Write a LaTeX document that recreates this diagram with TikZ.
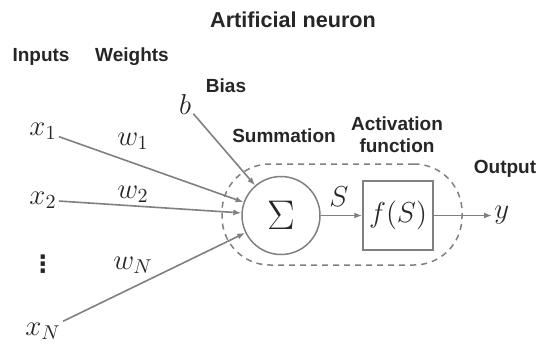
\documentclass[tikz,border=0pt]{standalone}
\usepackage{fontspec}
\setsansfont{Liberation Sans}
\newfontfamily\symbolfont{DejaVu Sans}
\usetikzlibrary{arrows.meta}
\definecolor{linegray}{HTML}{808080}
\definecolor{textgray}{HTML}{262626}

\begin{document}
\begin{tikzpicture}[
                        x=0.5pt, y=-0.5pt,
                        lbl/.style = {font=\sffamily\bfseries\fontsize{9.5}{11}\selectfont, text=textgray, align=center, inner sep=0pt},
                        mth/.style = {font=\fontsize{14.5}{17}\selectfont, text=textgray, inner sep=1pt},
                        conn/.style = {draw=linegray, line width=0.8pt, -{Latex[length=4pt,width=3pt]}}
                    ]
                        \useasboundingbox (0,0) rectangle (540,343);

                        \node[lbl, font=\sffamily\bfseries\fontsize{10.8}{13}\selectfont] (title) at (293,20) {Artificial neuron};
                        \node[lbl] (inputs) at (41,57) {Inputs};
                        \node[lbl] (weights) at (132,57) {Weights};
                        \node[lbl] (bias) at (226,86) {Bias};
                        \node[lbl] (summation) at (284,136) {Summation};
                        \node[lbl] (activation) at (397,135) {Activation\\function};
                        \node[lbl] (output) at (505,169) {Output};

                        \node[
                            draw = linegray,
                            line width = 0.75pt,
                            dash pattern = on 3pt off 2.5pt,
                            rounded corners = 24pt,
                            minimum width = 120pt,
                            minimum height = 50.5pt
                        ] (body) at (342,214.5) {};

                        \node[mth] (x1) at (43,131) {$x_1$};
                        \node[mth] (x2) at (43,200) {$x_2$};
                        \node[mth, font=\symbolfont\bfseries\fontsize{12}{14}\selectfont] (dots) at (43,264) {⋮};
                        \node[mth] (xN) at (43,331) {$x_N$};
                        \node[mth] (b) at (185,104) {$b$};

                        \node[mth] (w1) at (133,141) {$w_1$};
                        \node[mth] (w2) at (133,194) {$w_2$};
                        \node[mth] (wN) at (133,265) {$w_N$};

                        \node[circle, draw=linegray, line width=0.75pt, minimum size=39pt, inner sep=0pt, text=textgray, font=\fontsize{20}{24}\selectfont] (sum) at (281,215.5) {$\Sigma$};
                        \node[draw=linegray, line width=0.75pt, minimum width=35pt, minimum height=34.5pt, inner sep=0pt, mth] (act) at (398,215.5) {$f(S)$};
                        \node[mth, anchor=west] (y) at (492,215.5) {$y$};
                        \node[mth] (s) at (339,197) {$S$};

                        \draw[conn] (x1) -- (sum);
                        \draw[conn] (x2) -- (sum);
                        \draw[conn] (xN) -- (sum);
                        \draw[conn] (b) -- (sum);
                        \draw[conn] (sum) -- (act);
                        \draw[conn] (act) -- (act -| y.west);
                    \end{tikzpicture}
\end{document}
